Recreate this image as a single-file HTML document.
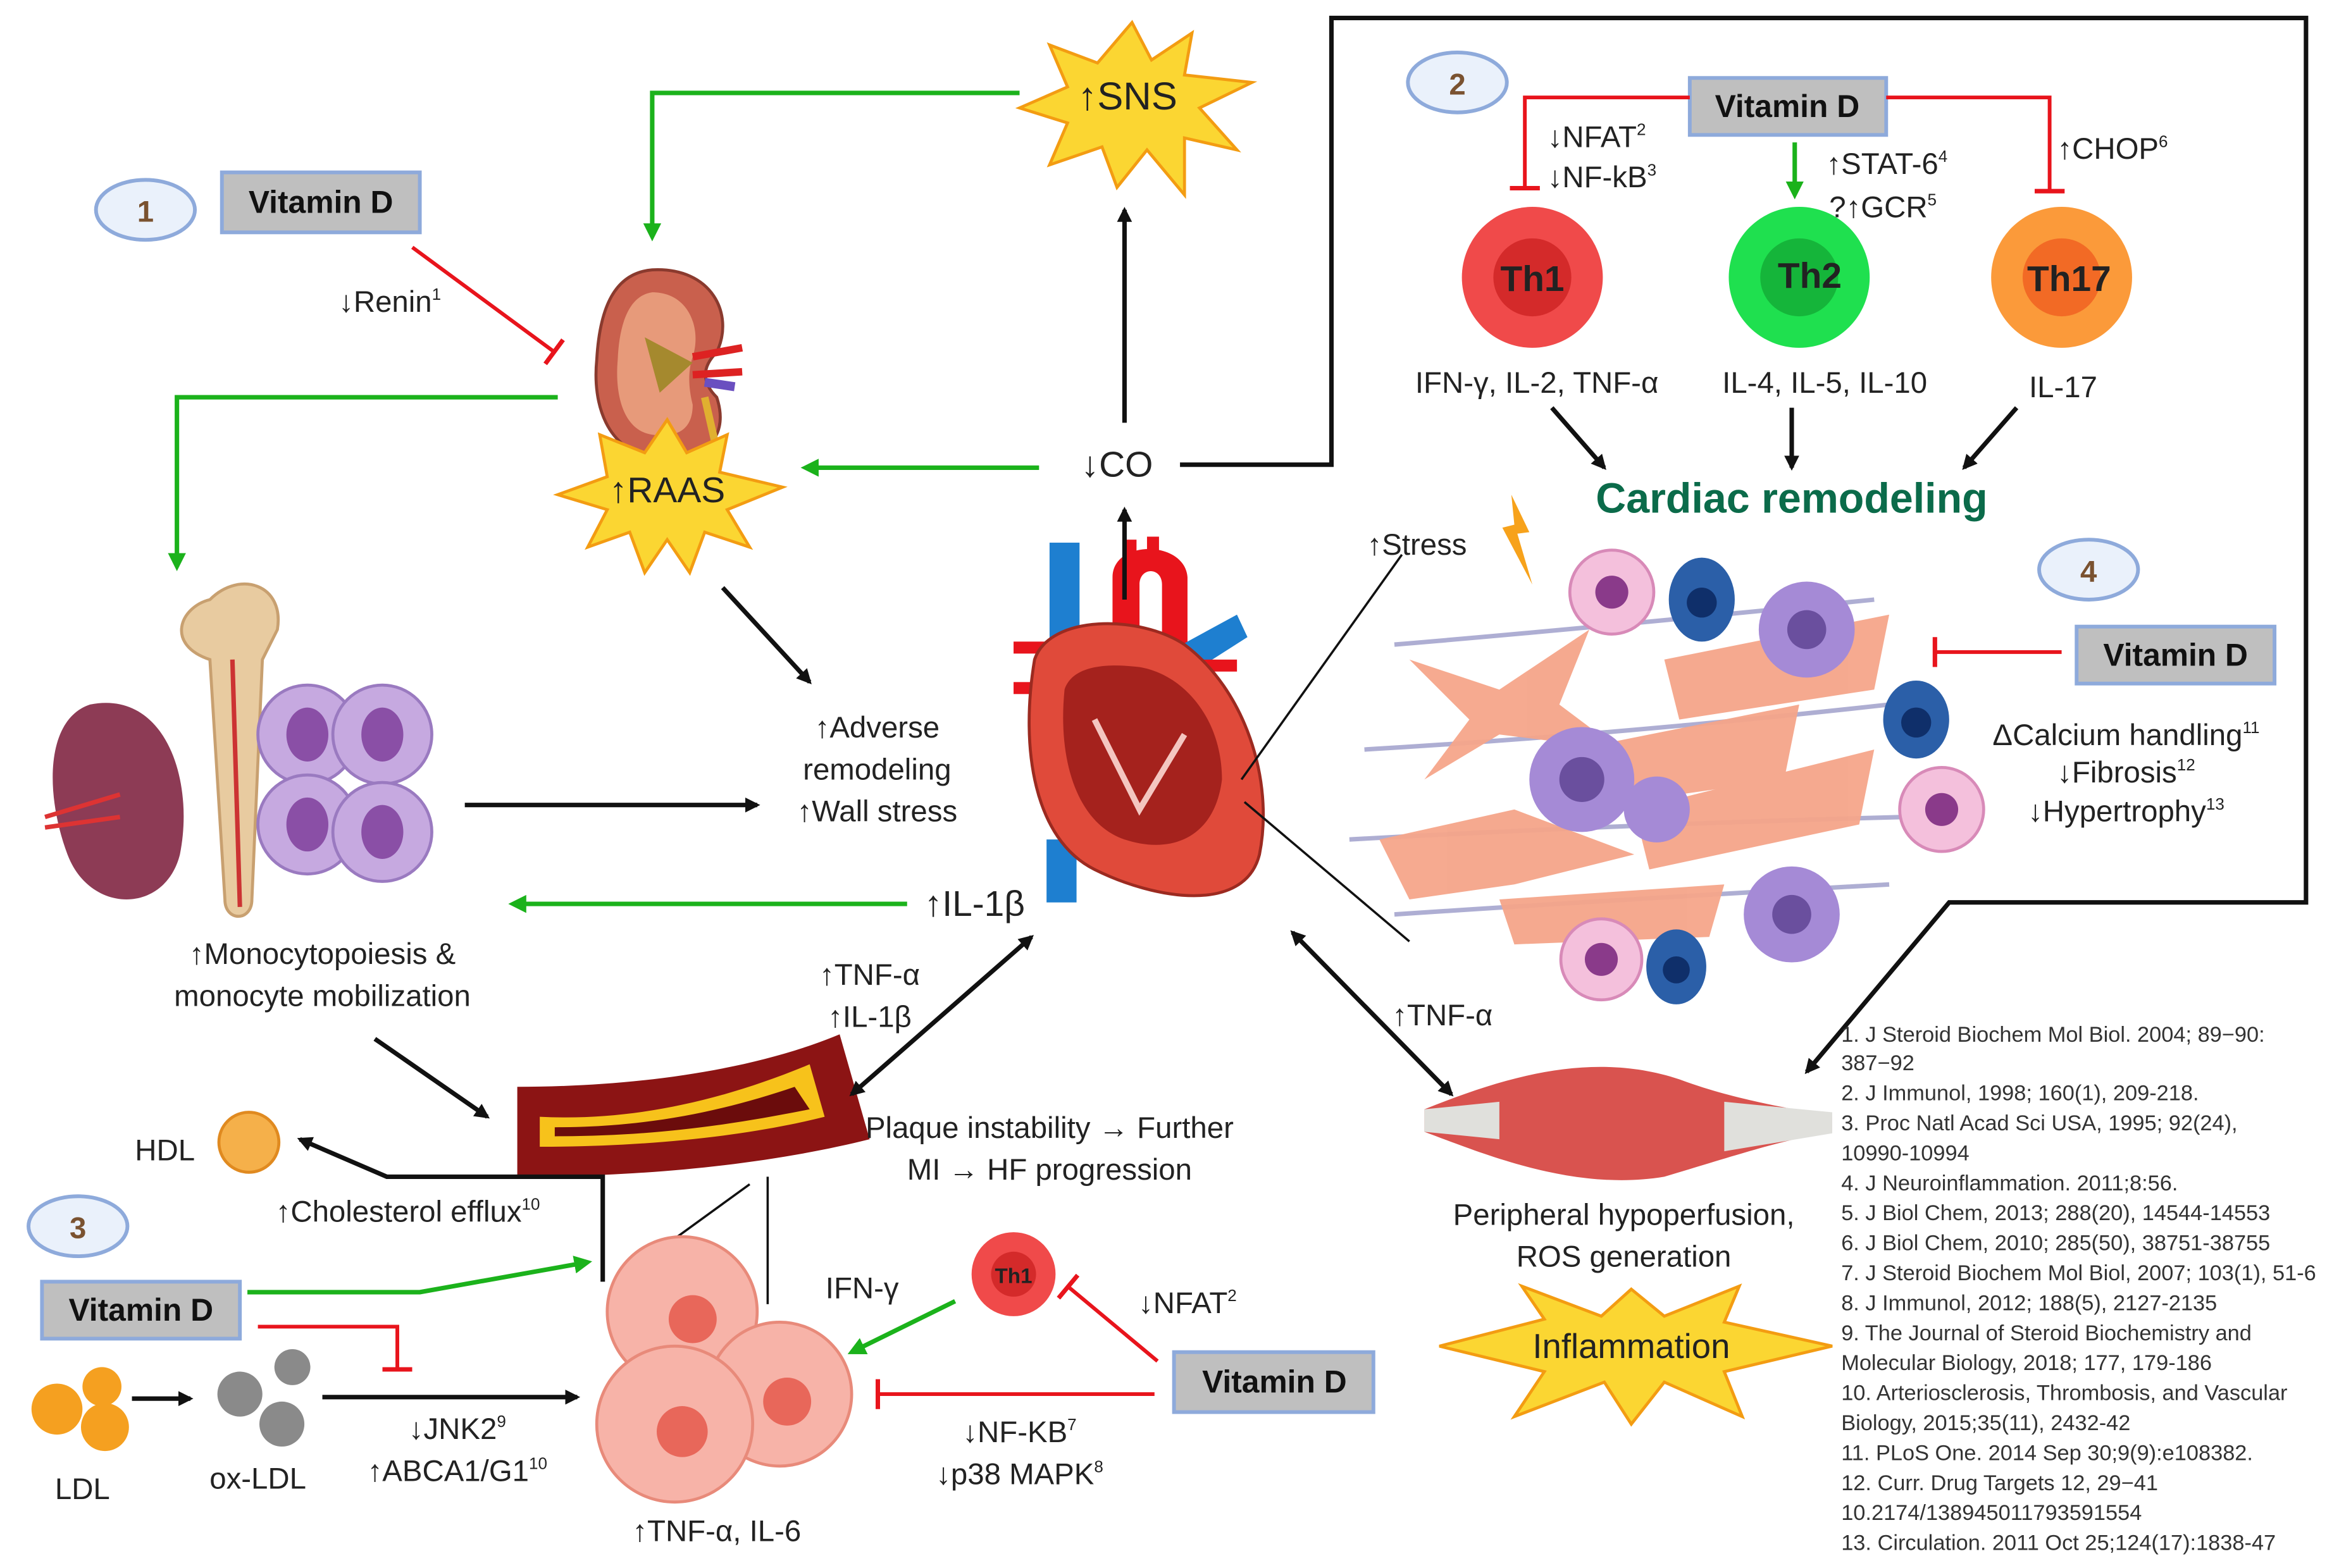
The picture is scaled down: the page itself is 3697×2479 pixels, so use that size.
<!DOCTYPE html>
<html><head><meta charset="utf-8"><style>
html,body{margin:0;padding:0;background:#fff}
svg{display:block}
text{font-family:"Liberation Sans",sans-serif;fill:#222}
.vd{fill:#bfbfbf;stroke:#8eaadb;stroke-width:2.5}
.vt{font-weight:bold;font-size:21px;fill:#111}
.t{font-size:20px}
.r{font-size:14.5px;fill:#333}
</style></head><body>
<svg width="3697" height="2479" viewBox="0 0 1560 1046" preserveAspectRatio="none" xmlns="http://www.w3.org/2000/svg">
<defs>
<marker id="ab" markerWidth="10" markerHeight="10" refX="8" refY="5" orient="auto" markerUnits="userSpaceOnUse"><path d="M0,0 L10,5 L0,10 Z" fill="#111"/></marker>
<marker id="abs" markerWidth="10" markerHeight="10" refX="2" refY="5" orient="auto" markerUnits="userSpaceOnUse"><path d="M10,0 L0,5 L10,10 Z" fill="#111"/></marker>
<marker id="ag" markerWidth="12" markerHeight="12" refX="9" refY="6" orient="auto" markerUnits="userSpaceOnUse"><path d="M0,0 L12,6 L0,12 Z" fill="#1bb21b"/></marker>
<marker id="tr" markerWidth="4" markerHeight="20" refX="2" refY="10" orient="auto" markerUnits="userSpaceOnUse"><rect x="0" y="0" width="3" height="20" fill="#e8141c"/></marker>
</defs>
<rect width="1560" height="1046" fill="#fff"/>

<polyline points="787,310 888,310 888,12 1538,12 1538,602 1300,602 1205,715" fill="none" stroke="#111" stroke-width="3" marker-end="url(#ab)"/>

<polygon points="755,15 768,40 795,22 790,50 835,55 800,72 825,100 790,92 790,130 765,100 745,125 735,98 700,110 712,82 680,72 712,58 700,30 732,42" fill="#fbd632" stroke="#f39c12" stroke-width="2"/>
<text x="752" y="73" text-anchor="middle" style="font-size:26px">↑SNS</text>
<polyline points="680,62 435,62 435,158" fill="none" stroke="#1bb21b" stroke-width="3" marker-end="url(#ag)"/>

<ellipse cx="97" cy="140" rx="33" ry="20" fill="#eaf1fb" stroke="#8eaadb" stroke-width="2.5"/>
<text x="97" y="148" text-anchor="middle" style="font-size:20px;font-weight:bold;fill:#7a5230">1</text>
<rect x="148" y="115" width="132" height="40" class="vd"/>
<text x="214" y="142" text-anchor="middle" class="vt">Vitamin D</text>
<line x1="275" y1="165" x2="370" y2="235" stroke="#e8141c" stroke-width="2.5" marker-end="url(#tr)"/>
<text x="260" y="208" class="t" text-anchor="middle">↓Renin<tspan font-size="11" dy="-8">1</tspan></text>

<!-- kidney -->
<path d="M435,180 C475,178 490,210 478,235 C468,245 468,255 478,265 C488,295 465,310 435,305 C405,300 395,270 398,240 C400,205 410,182 435,180 Z" fill="#c9604d" stroke="#8a3a2e" stroke-width="2"/>
<path d="M435,195 C460,195 468,220 462,238 C458,250 460,262 462,270 C462,288 450,292 435,290 C415,287 410,262 412,240 C413,215 420,197 435,195Z" fill="#e79a7a"/>
<path d="M462,238 L495,232 M462,250 L495,248" stroke="#d22" stroke-width="5"/>
<path d="M470,255 L490,258" stroke="#6a4fc0" stroke-width="6"/>
<path d="M430,225 L462,242 L440,262 Z" fill="#a5892e"/>
<path d="M470,265 L478,300" stroke="#e0b030" stroke-width="5"/>
<polyline points="372,265 118,265 118,378" fill="none" stroke="#1bb21b" stroke-width="3" marker-end="url(#ag)"/>
<polygon points="445,280 458,302 485,290 480,315 522,325 485,340 500,365 470,355 460,382 445,360 430,382 420,355 392,365 405,340 372,330 405,318 400,290 430,302" fill="#fbd632" stroke="#f39c12" stroke-width="2"/>
<text x="445" y="335" text-anchor="middle" style="font-size:24px">↑RAAS</text>
<line x1="482" y1="392" x2="540" y2="455" stroke="#111" stroke-width="3" marker-end="url(#ab)"/>
<text x="585" y="492" text-anchor="middle" class="t">↑Adverse</text>
<text x="585" y="520" text-anchor="middle" class="t">remodeling</text>
<text x="585" y="548" text-anchor="middle" class="t">↑Wall stress</text>

<path d="M60,470 C110,460 130,520 120,570 C110,610 60,610 45,570 C30,530 30,480 60,470Z" fill="#8d3b55"/>
<path d="M30,545 L80,530 M30,552 L80,545" stroke="#d33" stroke-width="3"/>
<path d="M140,400 C160,380 190,390 185,420 L175,440 L168,600 C168,615 150,615 150,600 L140,440 C110,430 120,405 140,400Z" fill="#e8cba0" stroke="#c8a070" stroke-width="2"/>
<line x1="155" y1="440" x2="160" y2="605" stroke="#c33" stroke-width="3"/>
<g fill="#c6a9e0" stroke="#9a7ac0" stroke-width="2">
<circle cx="205" cy="490" r="33"/><circle cx="255" cy="490" r="33"/><circle cx="205" cy="550" r="33"/><circle cx="255" cy="555" r="33"/></g>
<g fill="#8a4fa6"><ellipse cx="205" cy="490" rx="14" ry="18"/><ellipse cx="255" cy="490" rx="14" ry="18"/><ellipse cx="205" cy="550" rx="14" ry="18"/><ellipse cx="255" cy="555" rx="14" ry="18"/></g>
<line x1="310" y1="537" x2="505" y2="537" stroke="#111" stroke-width="3" marker-end="url(#ab)"/>
<line x1="605" y1="603" x2="342" y2="603" stroke="#1bb21b" stroke-width="3" marker-end="url(#ag)"/>
<text x="650" y="611" text-anchor="middle" style="font-size:24px">↑IL-1β</text>
<text x="215" y="643" text-anchor="middle" class="t">↑Monocytopoiesis &amp;</text>
<text x="215" y="671" text-anchor="middle" class="t">monocyte mobilization</text>

<!-- heart vessels -->
<rect x="700" y="362" width="20" height="90" fill="#1e7fd0"/>
<rect x="698" y="560" width="20" height="42" fill="#1e7fd0"/>
<path d="M742,420 L742,385 C742,360 790,360 792,385 L792,430 L775,430 L775,390 C775,378 760,378 760,390 L760,420Z" fill="#e8141c"/>
<rect x="750" y="360" width="8" height="20" fill="#e8141c"/><rect x="765" y="358" width="8" height="20" fill="#e8141c"/>
<path d="M770,440 L825,410 L832,425 L785,455Z" fill="#1e7fd0"/>
<rect x="676" y="428" width="25" height="8" fill="#e8141c"/><rect x="676" y="455" width="25" height="8" fill="#e8141c"/>
<rect x="795" y="440" width="30" height="8" fill="#e8141c"/>
<path d="M690,440 C680,500 690,560 730,580 C770,600 830,610 840,570 C850,520 830,460 790,430 C760,410 700,410 690,440Z" fill="#e04a3a" stroke="#9c2a20" stroke-width="2"/>
<path d="M710,460 C705,510 720,550 750,560 C780,570 810,560 815,520 C815,480 790,450 760,445 C735,442 715,445 710,460Z" fill="#a5221d"/>
<path d="M730,480 L760,540 L790,490" stroke="#f4c6c0" stroke-width="4" fill="none"/>
<line x1="750" y1="400" x2="750" y2="340" stroke="#111" stroke-width="3" marker-end="url(#ab)"/>
<text x="745" y="318" text-anchor="middle" style="font-size:24px">↓CO</text>
<line x1="693" y1="312" x2="537" y2="312" stroke="#1bb21b" stroke-width="3" marker-end="url(#ag)"/>
<line x1="750" y1="282" x2="750" y2="140" stroke="#111" stroke-width="3" marker-end="url(#ab)"/>

<ellipse cx="972" cy="55" rx="33" ry="20" fill="#eaf1fb" stroke="#8eaadb" stroke-width="2.5"/>
<text x="972" y="63" text-anchor="middle" style="font-size:20px;font-weight:bold;fill:#7a5230">2</text>
<rect x="1127" y="52" width="131" height="38" class="vd"/>
<text x="1192" y="78" text-anchor="middle" class="vt">Vitamin D</text>
<polyline points="1127,65 1017,65 1017,126" fill="none" stroke="#e8141c" stroke-width="2.5" marker-end="url(#tr)"/>
<polyline points="1258,65 1367,65 1367,128" fill="none" stroke="#e8141c" stroke-width="2.5" marker-end="url(#tr)"/>
<line x1="1197" y1="95" x2="1197" y2="130" stroke="#1bb21b" stroke-width="3" marker-end="url(#ag)"/>
<text x="1032" y="98" class="t">↓NFAT<tspan font-size="11" dy="-8">2</tspan></text>
<text x="1032" y="125" class="t">↓NF-kB<tspan font-size="11" dy="-8">3</tspan></text>
<text x="1218" y="116" class="t">↑STAT-6<tspan font-size="11" dy="-8">4</tspan></text>
<text x="1220" y="145" class="t">?↑GCR<tspan font-size="11" dy="-8">5</tspan></text>
<text x="1372" y="106" class="t">↑CHOP<tspan font-size="11" dy="-8">6</tspan></text>
<circle cx="1022" cy="185" r="47" fill="#f04a4a"/><circle cx="1022" cy="185" r="26" fill="#d42a2a"/>
<text x="1022" y="194" text-anchor="middle" style="font-size:24px;font-weight:bold">Th1</text>
<circle cx="1200" cy="185" r="47" fill="#1fe04f"/><circle cx="1200" cy="185" r="26" fill="#15b53a"/>
<text x="1207" y="192" text-anchor="middle" style="font-size:24px;font-weight:bold">Th2</text>
<circle cx="1375" cy="185" r="47" fill="#fb9a3a"/><circle cx="1375" cy="185" r="26" fill="#f26a25"/>
<text x="1380" y="194" text-anchor="middle" style="font-size:24px;font-weight:bold">Th17</text>
<text x="1025" y="262" text-anchor="middle" class="t">IFN-γ, IL-2, TNF-α</text>
<text x="1217" y="262" text-anchor="middle" class="t">IL-4, IL-5, IL-10</text>
<text x="1376" y="265" text-anchor="middle" class="t">IL-17</text>
<line x1="1035" y1="272" x2="1070" y2="312" stroke="#111" stroke-width="3" marker-end="url(#ab)"/>
<line x1="1195" y1="272" x2="1195" y2="312" stroke="#111" stroke-width="3" marker-end="url(#ab)"/>
<line x1="1345" y1="272" x2="1310" y2="312" stroke="#111" stroke-width="3" marker-end="url(#ab)"/>
<text x="1195" y="342" text-anchor="middle" style="font-size:28px;font-weight:bold;fill:#0b6b4a">Cardiac remodeling</text>

<text x="945" y="370" text-anchor="middle" class="t">↑Stress</text>
<polygon points="1008,330 1020,355 1012,356 1022,390 1002,352 1010,350" fill="#f7a21b"/>
<line x1="935" y1="370" x2="828" y2="520" stroke="#111" stroke-width="1.5"/>
<line x1="830" y1="535" x2="940" y2="628" stroke="#111" stroke-width="1.5"/>
<g stroke="#9a9ac8" stroke-width="3" fill="none" opacity="0.8">
<path d="M930,430 Q1050,420 1250,400"/><path d="M910,500 Q1080,490 1260,470"/><path d="M900,560 Q1080,550 1270,545"/><path d="M930,610 Q1080,600 1260,590"/></g>
<g fill="#f5a58a" opacity="0.95">
<path d="M940,440 L1000,460 L1060,420 L1040,470 L1080,500 L1000,490 L950,520 L980,480Z"/>
<path d="M1050,500 L1200,470 L1190,520 L1050,540Z"/>
<path d="M920,560 L1010,540 L1090,570 L1010,590 L940,600Z"/>
<path d="M1090,540 L1250,500 L1240,550 L1100,580Z"/>
<path d="M1110,440 L1260,410 L1250,460 L1120,480Z"/>
<path d="M1000,600 L1150,590 L1140,625 L1010,630Z"/>
</g>
<g fill="#a58ad6"><circle cx="1055" cy="520" r="35"/><circle cx="1205" cy="420" r="32"/><circle cx="1195" cy="610" r="32"/><circle cx="1105" cy="540" r="22"/></g>
<g fill="#6a4f9e"><circle cx="1055" cy="520" r="15"/><circle cx="1205" cy="420" r="13"/><circle cx="1195" cy="610" r="13"/></g>
<g fill="#f4c0dc" stroke="#d88ab8" stroke-width="2"><circle cx="1075" cy="395" r="28"/><circle cx="1295" cy="540" r="28"/><circle cx="1068" cy="640" r="27"/></g>
<g fill="#8a3a8a"><circle cx="1075" cy="395" r="11"/><circle cx="1295" cy="540" r="11"/><circle cx="1068" cy="640" r="11"/></g>
<g fill="#2b5fa8"><ellipse cx="1135" cy="400" rx="22" ry="28"/><ellipse cx="1278" cy="480" rx="22" ry="26"/><ellipse cx="1118" cy="645" rx="20" ry="25"/></g>
<g fill="#0f2f6a"><circle cx="1135" cy="402" r="10"/><circle cx="1278" cy="482" r="10"/><circle cx="1118" cy="647" r="9"/></g>

<ellipse cx="1393" cy="380" rx="33" ry="20" fill="#eaf1fb" stroke="#8eaadb" stroke-width="2.5"/>
<text x="1393" y="388" text-anchor="middle" style="font-size:20px;font-weight:bold;fill:#7a5230">4</text>
<rect x="1385" y="418" width="132" height="38" class="vd"/>
<text x="1451" y="444" text-anchor="middle" class="vt">Vitamin D</text>
<line x1="1375" y1="435" x2="1290" y2="435" stroke="#e8141c" stroke-width="2.5" marker-end="url(#tr)"/>
<text x="1418" y="497" text-anchor="middle" class="t">ΔCalcium handling<tspan font-size="11" dy="-8">11</tspan></text>
<text x="1418" y="522" text-anchor="middle" class="t">↓Fibrosis<tspan font-size="11" dy="-8">12</tspan></text>
<text x="1418" y="548" text-anchor="middle" class="t">↓Hypertrophy<tspan font-size="11" dy="-8">13</tspan></text>

<path d="M950,740 C1000,720 1060,700 1120,720 C1160,735 1200,740 1222,745 L1222,755 C1190,760 1160,770 1110,785 C1050,795 990,770 950,755Z" fill="#d9534f"/>
<path d="M950,740 L1000,735 L1000,760 L950,755Z M1150,735 L1222,742 L1222,756 L1150,768Z" fill="#e0e0dc"/>
<line x1="862" y1="622" x2="968" y2="730" stroke="#111" stroke-width="3" marker-start="url(#abs)" marker-end="url(#ab)"/>
<text x="962" y="684" text-anchor="middle" class="t">↑TNF-α</text>
<text x="1083" y="817" text-anchor="middle" class="t">Peripheral hypoperfusion,</text>
<text x="1083" y="845" text-anchor="middle" class="t">ROS generation</text>
<polygon points="1088,860 1110,878 1160,858 1150,882 1222,898 1150,915 1162,945 1110,922 1088,950 1070,922 1010,945 1030,915 960,898 1030,880 1015,858 1068,878" fill="#fbd632" stroke="#f39c12" stroke-width="2"/>
<text x="1088" y="906" text-anchor="middle" style="font-size:23px">Inflammation</text>

<g class="r">
<text x="1228" y="695" class="r">1. J Steroid Biochem Mol Biol. 2004; 89−90:</text>
<text x="1228" y="714" class="r">387−92</text>
<text x="1228" y="734" class="r">2. J Immunol, 1998; 160(1), 209-218.</text>
<text x="1228" y="754" class="r">3. Proc Natl Acad Sci USA, 1995; 92(24),</text>
<text x="1228" y="774" class="r">10990-10994</text>
<text x="1228" y="794" class="r">4. J Neuroinflammation. 2011;8:56.</text>
<text x="1228" y="814" class="r">5. J Biol Chem, 2013; 288(20), 14544-14553</text>
<text x="1228" y="834" class="r">6. J Biol Chem,  2010; 285(50), 38751-38755</text>
<text x="1228" y="854" class="r">7. J Steroid Biochem Mol Biol, 2007; 103(1), 51-6</text>
<text x="1228" y="874" class="r">8. J Immunol, 2012; 188(5), 2127-2135</text>
<text x="1228" y="894" class="r">9. The Journal of Steroid Biochemistry and</text>
<text x="1228" y="914" class="r">Molecular Biology,  2018; 177, 179-186</text>
<text x="1228" y="934" class="r">10. Arteriosclerosis, Thrombosis, and Vascular</text>
<text x="1228" y="954" class="r">Biology, 2015;35(11), 2432-42</text>
<text x="1228" y="974" class="r">11. PLoS One. 2014 Sep 30;9(9):e108382.</text>
<text x="1228" y="994" class="r">12.  Curr. Drug Targets 12, 29−41</text>
<text x="1228" y="1014" class="r">10.2174/138945011793591554</text>
<text x="1228" y="1034" class="r">13. Circulation. 2011 Oct 25;124(17):1838-47</text>
</g>

<path d="M345,725 C420,725 500,715 560,690 L580,760 C520,775 440,785 345,785Z" fill="#8c1414"/>
<path d="M360,745 C420,748 480,735 540,710 L550,745 C490,760 420,765 360,765Z" fill="#f7c21b"/>
<path d="M370,752 C430,752 480,742 530,725 L540,740 C480,752 430,758 370,758Z" fill="#6b0c0c"/>
<line x1="688" y1="625" x2="568" y2="730" stroke="#111" stroke-width="3" marker-start="url(#abs)" marker-end="url(#ab)"/>
<text x="580" y="657" text-anchor="middle" class="t">↑TNF-α</text>
<text x="580" y="685" text-anchor="middle" class="t">↑IL-1β</text>
<text x="700" y="759" text-anchor="middle" class="t">Plaque instability →  Further</text>
<text x="700" y="787" text-anchor="middle" class="t">MI → HF progression</text>
<line x1="250" y1="693" x2="325" y2="745" stroke="#111" stroke-width="3" marker-end="url(#ab)"/>
<line x1="512" y1="785" x2="512" y2="870" stroke="#111" stroke-width="1.5"/>
<line x1="500" y1="790" x2="438" y2="835" stroke="#111" stroke-width="1.5"/>

<text x="110" y="774" text-anchor="middle" class="t">HDL</text>
<circle cx="166" cy="762" r="20" fill="#f5b04a" stroke="#e08a20" stroke-width="2"/>
<polyline points="402,855 402,785 258,785 200,760" fill="none" stroke="#111" stroke-width="3" marker-end="url(#ab)"/>
<text x="272" y="815" text-anchor="middle" class="t">↑Cholesterol efflux<tspan font-size="11" dy="-8">10</tspan></text>

<ellipse cx="52" cy="818" rx="33" ry="20" fill="#eaf1fb" stroke="#8eaadb" stroke-width="2.5"/>
<text x="52" y="826" text-anchor="middle" style="font-size:20px;font-weight:bold;fill:#7a5230">3</text>
<rect x="28" y="855" width="132" height="38" class="vd"/>
<text x="94" y="881" text-anchor="middle" class="vt">Vitamin D</text>
<polyline points="165,862 280,862 392,842" fill="none" stroke="#1bb21b" stroke-width="3" marker-end="url(#ag)"/>
<polyline points="172,885 265,885 265,914" fill="none" stroke="#e8141c" stroke-width="2.5" marker-end="url(#tr)"/>
<g fill="#f5a020"><circle cx="38" cy="940" r="17"/><circle cx="68" cy="925" r="13"/><circle cx="70" cy="952" r="16"/></g>
<text x="55" y="1000" text-anchor="middle" class="t">LDL</text>
<line x1="88" y1="933" x2="127" y2="933" stroke="#111" stroke-width="3" marker-end="url(#ab)"/>
<g fill="#8a8a8a"><circle cx="160" cy="930" r="15"/><circle cx="195" cy="912" r="12"/><circle cx="188" cy="950" r="15"/></g>
<text x="172" y="993" text-anchor="middle" class="t">ox-LDL</text>
<line x1="215" y1="932" x2="385" y2="932" stroke="#111" stroke-width="3" marker-end="url(#ab)"/>
<text x="305" y="960" text-anchor="middle" class="t">↓JNK2<tspan font-size="11" dy="-8">9</tspan></text>
<text x="305" y="988" text-anchor="middle" class="t">↑ABCA1/G1<tspan font-size="11" dy="-8">10</tspan></text>

<g fill="#f7b3a8" stroke="#e88a7a" stroke-width="2">
<circle cx="455" cy="875" r="50"/><circle cx="520" cy="930" r="48"/><circle cx="450" cy="950" r="52"/></g>
<g fill="#e8675a"><circle cx="462" cy="880" r="16"/><circle cx="525" cy="935" r="16"/><circle cx="455" cy="955" r="17"/></g>
<text x="478" y="1028" text-anchor="middle" class="t">↑TNF-α, IL-6</text>

<circle cx="676" cy="850" r="28" fill="#f04a4a"/><circle cx="676" cy="850" r="15" fill="#d42a2a"/>
<text x="676" y="856" text-anchor="middle" style="font-size:14px;font-weight:bold">Th1</text>
<text x="575" y="866" text-anchor="middle" class="t">IFN-γ</text>
<line x1="637" y1="868" x2="568" y2="902" stroke="#1bb21b" stroke-width="3" marker-end="url(#ag)"/>
<line x1="772" y1="908" x2="712" y2="858" stroke="#e8141c" stroke-width="2.5" marker-end="url(#tr)"/>
<text x="792" y="876" text-anchor="middle" class="t">↓NFAT<tspan font-size="11" dy="-8">2</tspan></text>
<rect x="783" y="902" width="133" height="40" class="vd"/>
<text x="850" y="929" text-anchor="middle" class="vt">Vitamin D</text>
<line x1="770" y1="930" x2="585" y2="930" stroke="#e8141c" stroke-width="2.5" marker-end="url(#tr)"/>
<text x="680" y="962" text-anchor="middle" class="t">↓NF-KB<tspan font-size="11" dy="-8">7</tspan></text>
<text x="680" y="990" text-anchor="middle" class="t">↓p38 MAPK<tspan font-size="11" dy="-8">8</tspan></text>
</svg>
</body></html>
